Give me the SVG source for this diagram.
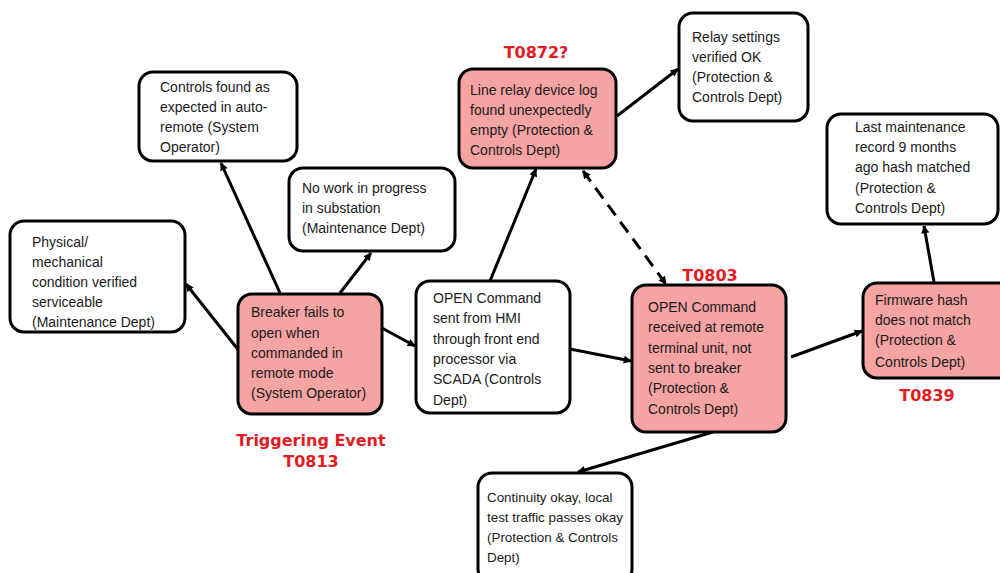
<svg xmlns="http://www.w3.org/2000/svg" width="1000" height="573" viewBox="0 0 1000 573">
<style>
.box{fill:#ffffff;stroke:#000;stroke-width:3}
.hot{fill:#F5A3A3;stroke:#000;stroke-width:3}
.t{font-family:"Liberation Sans",Arial,sans-serif;font-size:14px;fill:#1a1a1a}
.lbl{font-family:"DejaVu Sans",sans-serif;font-weight:bold;font-size:16px;fill:#E31B23;text-anchor:middle}
.c{stroke:#000;stroke-width:3;fill:none}
.d{stroke:#000;stroke-width:3;fill:none;stroke-dasharray:13 8}
</style>
<defs>
<marker id="ah" viewBox="0 0 10 10" refX="9" refY="5" markerWidth="10" markerHeight="8" markerUnits="userSpaceOnUse" orient="auto-start-reverse">
<path d="M0,0 L10,5 L0,10 z" fill="#000"/>
</marker>
</defs>
<rect width="1000" height="573" fill="#fff"/>
<g id="connectors">
<line class="c" x1="240" y1="352" x2="186" y2="284" marker-end="url(#ah)"/>
<line class="c" x1="280" y1="293" x2="221" y2="163" marker-end="url(#ah)"/>
<line class="c" x1="340" y1="293" x2="371" y2="253" marker-end="url(#ah)"/>
<line class="c" x1="382" y1="328" x2="415" y2="346" marker-end="url(#ah)"/>
<line class="c" x1="490" y1="281" x2="536" y2="169" marker-end="url(#ah)"/>
<line class="c" x1="617" y1="116" x2="678" y2="69" marker-end="url(#ah)"/>
<line class="d" x1="583" y1="171" x2="666" y2="284" marker-start="url(#ah)" marker-end="url(#ah)"/>
<line class="c" x1="570" y1="349" x2="631" y2="361" marker-end="url(#ah)"/>
<line class="c" x1="791" y1="357" x2="862" y2="331" marker-end="url(#ah)"/>
<line class="c" x1="934" y1="282" x2="924" y2="226" marker-end="url(#ah)"/>
<line class="c" x1="713" y1="432" x2="578" y2="472" marker-end="url(#ah)"/>
</g>
<g id="physical">
<rect class="box" x="10" y="221" width="175" height="111" rx="14"/>
<text class="t"><tspan x="32" y="247">Physical/</tspan><tspan x="32" y="267">mechanical</tspan><tspan x="32" y="287">condition verified</tspan><tspan x="32" y="307">serviceable</tspan><tspan x="32" y="327">(Maintenance Dept)</tspan></text>
</g>
<g id="controls">
<rect class="box" x="139" y="72" width="158" height="89" rx="14"/>
<text class="t"><tspan x="160" y="92">Controls found as</tspan><tspan x="160" y="112">expected in auto-</tspan><tspan x="160" y="132">remote (System</tspan><tspan x="160" y="152">Operator)</tspan></text>
</g>
<g id="nowork">
<rect class="box" x="289" y="168" width="166" height="83" rx="14"/>
<text class="t"><tspan x="302" y="193">No work in progress</tspan><tspan x="302" y="213">in substation</tspan><tspan x="302" y="233">(Maintenance Dept)</tspan></text>
</g>
<g id="breaker">
<rect class="hot" x="238" y="294" width="144" height="120" rx="14"/>
<text class="t"><tspan x="251" y="317">Breaker fails to</tspan><tspan x="251" y="338">open when</tspan><tspan x="251" y="358">commanded in</tspan><tspan x="251" y="378">remote mode</tspan><tspan x="251" y="398">(System Operator)</tspan></text>
<text class="lbl"><tspan x="311" y="446">Triggering Event</tspan><tspan x="311" y="467">T0813</tspan></text>
</g>
<g id="opensent">
<rect class="box" x="416" y="281" width="154" height="132" rx="14"/>
<text class="t"><tspan x="433" y="303">OPEN Command</tspan><tspan x="433" y="323">sent from HMI</tspan><tspan x="433" y="344">through front end</tspan><tspan x="433" y="364">processor via</tspan><tspan x="433" y="384">SCADA  (Controls</tspan><tspan x="433" y="405">Dept)</tspan></text>
</g>
<g id="linerelay">
<rect class="hot" x="459" y="69" width="157" height="99" rx="14"/>
<text class="t"><tspan x="470" y="95">Line relay device log</tspan><tspan x="470" y="115">found unexpectedly</tspan><tspan x="470" y="135">empty (Protection &amp;</tspan><tspan x="470" y="155">Controls Dept)</tspan></text>
<text class="lbl" x="536" y="58">T0872?</text>
</g>
<g id="relaysettings">
<rect class="box" x="679" y="13" width="129" height="108" rx="14"/>
<text class="t"><tspan x="692" y="42">Relay settings</tspan><tspan x="692" y="62">verified OK</tspan><tspan x="692" y="82">(Protection &amp;</tspan><tspan x="692" y="102">Controls Dept)</tspan></text>
</g>
<g id="openrecv">
<rect class="hot" x="632" y="285" width="154" height="147" rx="14"/>
<text class="t"><tspan x="648" y="312">OPEN Command</tspan><tspan x="648" y="332">received at remote</tspan><tspan x="648" y="353">terminal unit, not</tspan><tspan x="648" y="373">sent to breaker</tspan><tspan x="648" y="393">(Protection &amp;</tspan><tspan x="648" y="414">Controls Dept)</tspan></text>
<text class="lbl" x="710" y="281">T0803</text>
</g>
<g id="lastmaint">
<rect class="box" x="827" y="114" width="171" height="110" rx="14"/>
<text class="t"><tspan x="855" y="132">Last maintenance</tspan><tspan x="855" y="152">record 9 months</tspan><tspan x="855" y="172">ago hash matched</tspan><tspan x="855" y="193">(Protection &amp;</tspan><tspan x="855" y="213">Controls Dept)</tspan></text>
</g>
<g id="firmware">
<rect class="hot" x="863" y="283" width="150" height="95" rx="14"/>
<text class="t"><tspan x="875" y="305">Firmware hash</tspan><tspan x="875" y="325">does not match</tspan><tspan x="875" y="345">(Protection &amp;</tspan><tspan x="875" y="367">Controls Dept)</tspan></text>
<text class="lbl" x="927" y="401">T0839</text>
</g>
<g id="continuity">
<rect class="box" x="478" y="473" width="154" height="110" rx="14"/>
<text class="t" style="font-size:13.4px"><tspan x="487" y="502">Continuity okay, local</tspan><tspan x="487" y="522">test traffic passes okay</tspan><tspan x="487" y="542">(Protection &amp; Controls</tspan><tspan x="487" y="562">Dept)</tspan></text>
</g>
</svg>
